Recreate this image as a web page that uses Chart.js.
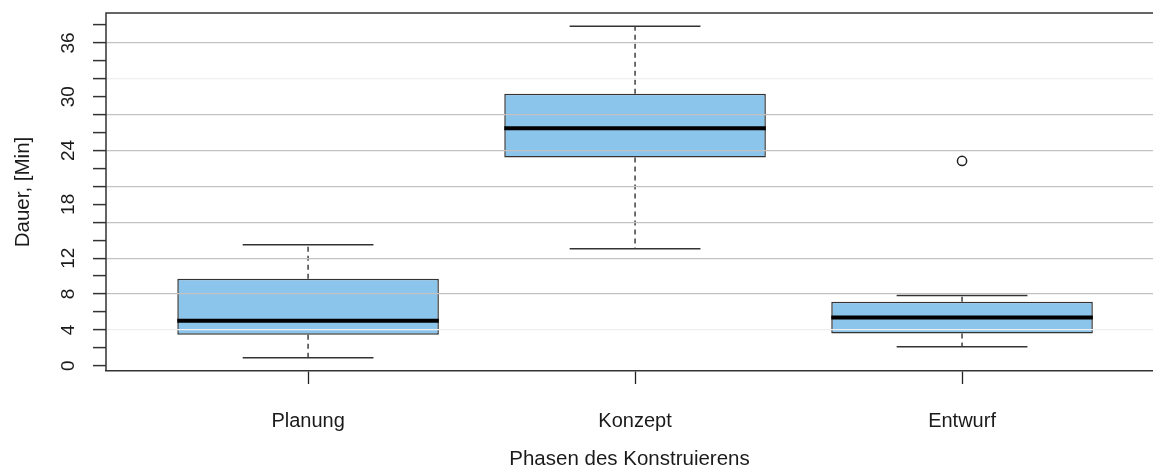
<!DOCTYPE html>
<html>
<head>
<meta charset="utf-8">
<script src="https://cdn.jsdelivr.net/npm/chart.js@4.4.1/dist/chart.umd.min.js"></script>
<style>
  html, body { margin: 0; padding: 0; background: #fff; overflow: hidden; }
  #wrap { width: 1153px; height: 469px; }
</style>
</head>
<body>
<div id="wrap"><canvas id="myBox"></canvas></div>
<script>
// Boxplot data (minutes)
var phases = ['Planung', 'Konzept', 'Entwurf'];
var lowerWhisker = [0.89, 13.04, 2.12];
var q1 = [3.45, 23.21, 3.60];
var median = [5.01, 26.49, 5.38];
var q3 = [9.69, 30.34, 7.13];
var upperWhisker = [13.48, 37.86, 7.83];
var outliers = [[], [], [22.84]];
var yTickLabels = [0, 4, 8, 12, 18, 24, 30, 36];

var font = "'Liberation Sans', Arial, sans-serif";
var ink = '#1a1a1a';

// R-style y range: data range stretched by 4% each side
var allVals = lowerWhisker.concat(upperWhisker, [].concat.apply([], outliers));
var lo = Math.min.apply(null, allVals), hi = Math.max.apply(null, allVals);
var yMin = lo - 0.04 * (hi - lo), yMax = hi + 0.04 * (hi - lo);

var boxHalf = 0.4, capHalf = 0.2;

var boxData = [], medData = [], whiskData = [], capData = [], outData = [];
phases.forEach(function (p, i) {
    var c = i + 1;
    boxData.push({x: c, y: [q1[i], q3[i]]});
    medData.push({x: c - boxHalf, y: median[i]}, {x: c + boxHalf, y: median[i]}, {x: c, y: null});
    whiskData.push({x: c, y: q3[i]}, {x: c, y: upperWhisker[i]}, {x: c, y: null},
                   {x: c, y: q1[i]}, {x: c, y: lowerWhisker[i]}, {x: c, y: null});
    capData.push({x: c - capHalf, y: upperWhisker[i]}, {x: c + capHalf, y: upperWhisker[i]}, {x: c, y: null},
                 {x: c - capHalf, y: lowerWhisker[i]}, {x: c + capHalf, y: lowerWhisker[i]}, {x: c, y: null});
    outliers[i].forEach(function (v) { outData.push({x: c, y: v}); });
});

// frame (left + top) and rotated y tick labels, R style
var rFrame = {
    id: 'rFrame',
    afterDraw: function (chart) {
        var ctx = chart.ctx, a = chart.chartArea, ys = chart.scales.y;
        ctx.save();
        ctx.strokeStyle = '#333';
        ctx.lineWidth = 1.5;
        ctx.beginPath();
        ctx.moveTo(a.right, a.top);
        ctx.lineTo(a.left, a.top);
        ctx.lineTo(a.left, a.bottom);
        ctx.stroke();
        ctx.fillStyle = ink;
        ctx.font = '19px ' + font;
        ctx.textAlign = 'center';
        ctx.textBaseline = 'middle';
        yTickLabels.forEach(function (v) {
            ctx.save();
            ctx.translate(69, ys.getPixelForValue(v));
            ctx.rotate(-Math.PI / 2);
            ctx.fillText(String(v), 0, 0);
            ctx.restore();
        });
        ctx.restore();
    }
};

var myBox = new Chart(document.getElementById('myBox').getContext('2d'), {
    type: 'bar',
    data: {
        datasets: [{
            type: 'line',
            data: medData,
            borderColor: '#000',
            borderWidth: 4,
            pointRadius: 0,
            order: 0
        }, {
            type: 'scatter',
            data: outData,
            pointStyle: 'circle',
            pointRadius: 4.6,
            backgroundColor: 'rgba(0,0,0,0)',
            borderColor: '#222',
            borderWidth: 1.5,
            order: 1
        }, {
            type: 'line',
            data: capData,
            borderColor: '#333',
            borderWidth: 1.5,
            pointRadius: 0,
            order: 2
        }, {
            type: 'line',
            data: whiskData,
            borderColor: '#222',
            borderWidth: 1.3,
            borderDash: [5, 4],
            pointRadius: 0,
            order: 3
        }, {
            data: boxData,
            backgroundColor: '#8cc5eb',
            borderColor: '#333',
            borderWidth: 1.5,
            borderSkipped: false,
            barPercentage: 1,
            categoryPercentage: 0.8,
            order: 4
        }]
    },
    options: {
        responsive: true,
        maintainAspectRatio: false,
        animation: false,
        layout: {autoPadding: false, padding: {top: 13, left: 0, right: 0, bottom: 0}},
        plugins: {legend: {display: false}, tooltip: {enabled: false}},
        scales: {
            x: {
                type: 'linear',
                min: 0.382,
                max: 3.584,
                offset: false,
                afterBuildTicks: function (s) {
                    s.ticks = phases.map(function (p, i) { return {value: i + 1}; });
                },
                afterFit: function (s) {
                    s.height = 98;
                    s.paddingLeft = 0;
                    s.paddingRight = 0;
                },
                ticks: {
                    autoSkip: false,
                    maxRotation: 0,
                    padding: 25,
                    color: ink,
                    font: {family: font, size: 20},
                    callback: function (v) { return phases[v - 1]; }
                },
                grid: {
                    offset: false,
                    drawOnChartArea: false,
                    tickLength: 13,
                    tickColor: '#222',
                    tickWidth: 1.3
                },
                border: {color: '#333', width: 1.5},
                title: {
                    display: true,
                    text: 'Phasen des Konstruierens',
                    color: ink,
                    font: {family: font, size: 20.5},
                    padding: {top: 0, bottom: -3}
                }
            },
            y: {
                min: yMin,
                max: yMax,
                afterFit: function (s) {
                    s.width = 106;
                    s.paddingTop = 0;
                    s.paddingBottom = 0;
                },
                ticks: {
                    display: false,
                    stepSize: 2,
                    includeBounds: false
                },
                grid: {
                    z: 1,
                    tickLength: 13,
                    tickColor: '#333',
                    tickWidth: 1.5,
                    lineWidth: 1.2,
                    color: function (c) {
                        var v = Math.round(c.tick.value);
                        if (v === 4 || v === 32) return '#efefef';
                        if (v > 0 && v % 4 === 0) return '#c2c2c2';
                        return 'rgba(0,0,0,0)';
                    }
                },
                border: {display: false},
                title: {
                    display: true,
                    text: 'Dauer, [Min]',
                    color: ink,
                    font: {family: font, size: 20.5},
                    padding: {top: 11, bottom: 0}
                }
            }
        }
    },
    plugins: [rFrame]
});
</script>
</body>
</html>
